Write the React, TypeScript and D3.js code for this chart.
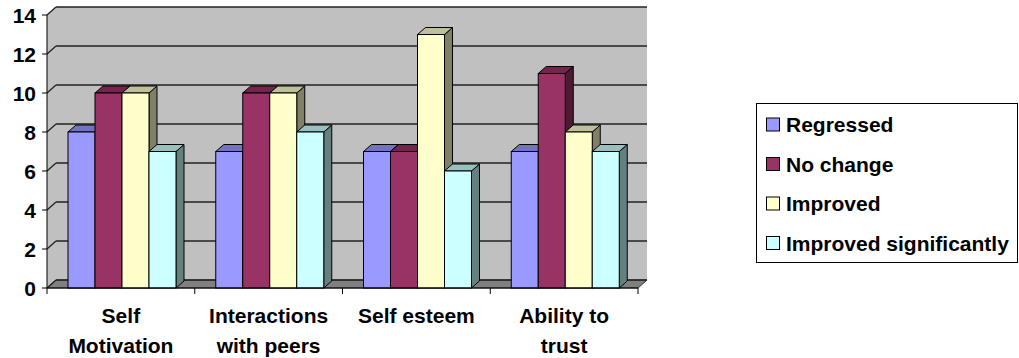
import React from "react";
import * as d3 from "d3";

const categories = [["Self", "Motivation"], ["Interactions", "with peers"], ["Self esteem"], ["Ability to", "trust"]];
const seriesNames = ["Regressed", "No change", "Improved", "Improved significantly"];
const regressed = [8, 7, 7, 7];
const noChange = [10, 10, 7, 11];
const improved = [10, 10, 13, 8];
const improvedSignificantly = [7, 8, 6, 7];
const yTicks = [0, 2, 4, 6, 8, 10, 12, 14];
const seriesColors = ["#9999FF", "#993366", "#FFFFCC", "#CCFFFF"];

const W = 1019;
const H = 358;
const FONT = "'Liberation Sans', Arial, sans-serif";
const FS = 21;

// plot frame
const x0 = 47;
const x1 = 638;
const yBottom = 288;
const yTop = 15;
// wall depth
const wdx = 9;
const wdy = -8;
// bar depth
const bdx = 8;
const bdy = -7;

function shade(c: string, k: number) {
  const rgb = d3.rgb(c);
  return d3.rgb(rgb.r * k, rgb.g * k, rgb.b * k).formatHex();
}

export default function App() {
  const series = [regressed, noChange, improved, improvedSignificantly];
  const y = d3.scaleLinear().domain([0, 14]).range([yBottom, yTop]);
  const xCat = d3.scaleBand<number>().domain(d3.range(categories.length)).range([x0, x1]).padding(0);
  const cw = xCat.bandwidth();
  const xSer = d3
    .scaleBand<number>()
    .domain(d3.range(series.length))
    .range([21, 21 + 108])
    .padding(0);
  const bw = xSer.bandwidth();

  const bars: React.ReactNode[] = [];
  categories.forEach((_, ci) => {
    series.forEach((vals, si) => {
      const v = vals[ci];
      const bx = (xCat(ci) as number) + (xSer(si) as number);
      const bt = y(v);
      const c = seriesColors[si];
      const top = `${bx},${bt} ${bx + bdx},${bt + bdy} ${bx + bw + bdx},${bt + bdy} ${bx + bw},${bt}`;
      const side = `${bx + bw},${bt} ${bx + bw + bdx},${bt + bdy} ${bx + bw + bdx},${yBottom + bdy} ${bx + bw},${yBottom}`;
      bars.push(
        <g key={`b-${ci}-${si}`}>
          <polygon points={side} fill={shade(c, 0.5)} stroke="#000" strokeWidth={1} strokeLinejoin="round" />
          <polygon points={top} fill={shade(c, 0.75)} stroke="#000" strokeWidth={1} strokeLinejoin="round" />
          <rect x={bx} y={bt} width={bw} height={yBottom - bt} fill={c} stroke="#000" strokeWidth={1} />
        </g>
      );
    });
  });

  return (
    <svg
      width={W}
      height={H}
      viewBox={`0 0 ${W} ${H}`}
      style={{ position: "absolute", left: 0, top: 0, background: "#fff" }}
    >
      {/* back wall */}
      <rect x={x0 + wdx} y={yTop + wdy} width={x1 - x0} height={yBottom - yTop} fill="#C0C0C0" />
      {/* left wall */}
      <polygon
        points={`${x0},${yBottom} ${x0 + wdx},${yBottom + wdy} ${x0 + wdx},${yTop + wdy} ${x0},${yTop}`}
        fill="#C0C0C0"
      />
      {/* floor */}
      <polygon
        points={`${x0},${yBottom} ${x0 + wdx},${yBottom + wdy} ${x1 + wdx},${yBottom + wdy} ${x1},${yBottom}`}
        fill="#808080"
        stroke="#333"
        strokeWidth={1}
      />
      {/* gridlines */}
      {yTicks.map((t) => (
        <g key={`g-${t}`}>
          <line x1={x0 + wdx} x2={x1 + wdx} y1={y(t) + wdy} y2={y(t) + wdy} stroke="#222" strokeWidth={1.3} />
          <line x1={x0} x2={x0 + wdx} y1={y(t)} y2={y(t) + wdy} stroke="#222" strokeWidth={1.3} />
        </g>
      ))}
      {bars}
      {/* axes */}
      <line x1={x0} x2={x0} y1={yTop} y2={yBottom} stroke="#000" strokeWidth={1} />
      <line x1={x0} x2={x1} y1={yBottom} y2={yBottom} stroke="#000" strokeWidth={1} />
      {yTicks.map((t) => (
        <g key={`yt-${t}`}>
          <line x1={x0 - 5} x2={x0} y1={y(t)} y2={y(t)} stroke="#000" />
          <text
            x={36}
            y={y(t)}
            dy="0.36em"
            textAnchor="end"
            fontFamily={FONT}
            fontWeight="bold"
            fontSize={FS}
            fill="#000"
          >
            {t}
          </text>
        </g>
      ))}
      {d3.range(categories.length + 1).map((i) => {
        const tx = x0 + i * cw;
        return <line key={`xt-${i}`} x1={tx} x2={tx} y1={yBottom} y2={yBottom + 6} stroke="#000" />;
      })}
      {categories.map((lines, ci) => (
        <text
          key={`c-${ci}`}
          x={(xCat(ci) as number) + cw / 2}
          y={323}
          textAnchor="middle"
          fontFamily={FONT}
          fontWeight="bold"
          fontSize={FS}
          fill="#000"
        >
          {lines.map((l, li) => (
            <tspan key={li} x={(xCat(ci) as number) + cw / 2} dy={li === 0 ? 0 : 30}>
              {l}
            </tspan>
          ))}
        </text>
      ))}
      {/* legend */}
      <rect x={756.5} y={103.5} width={261} height={159} fill="#fff" stroke="#000" strokeWidth={1} />
      {seriesNames.map((name, si) => {
        const cy = 124.5 + si * 39.5;
        return (
          <g key={`l-${si}`}>
            <rect x={766.5} y={cy - 6.5} width={13} height={13} fill={seriesColors[si]} stroke="#000" strokeWidth={1} />
            <text x={786} y={cy} dy="0.36em" fontFamily={FONT} fontWeight="bold" fontSize={FS} fill="#000">
              {name}
            </text>
          </g>
        );
      })}
    </svg>
  );
}
